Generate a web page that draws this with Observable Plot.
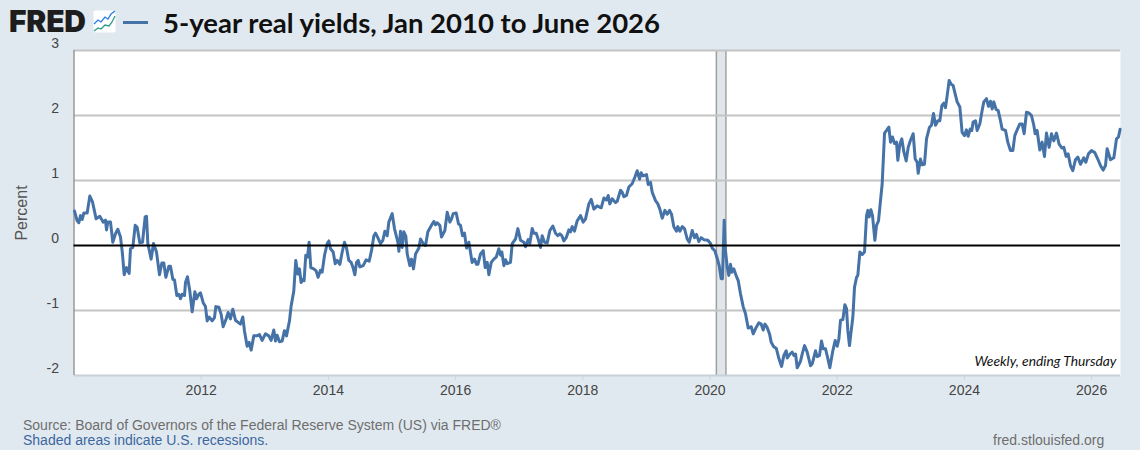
<!DOCTYPE html>
<html><head><meta charset="utf-8">
<script src="https://cdn.jsdelivr.net/npm/d3@7"></script>
<script src="https://cdn.jsdelivr.net/npm/@observablehq/plot@0.6"></script>
<style>
html,body{margin:0;padding:0;background:#e1e9f0;width:1140px;height:450px;overflow:hidden}
#head{position:relative;height:30px;z-index:2}
#logo{position:absolute;left:9px;top:8px;font:900 30px/26px Inter,"Liberation Sans",sans-serif;letter-spacing:-0.2px;color:#1d1d1d}
#icon{position:absolute;left:93px;top:10px}
#swatch{position:absolute;left:123px;top:21px;width:25px;height:3px;background:#4572a7}
#title{position:absolute;left:163px;top:5px;font:700 27.5px/36px Lato,sans-serif;color:#111;white-space:nowrap}
#chart svg{display:block}
#src{position:absolute;left:23px;top:417px;font:14px/16px "Liberation Sans",sans-serif;color:#6e6e6e;white-space:nowrap}
#note{position:absolute;left:23px;top:432px;font:14px/16px "Liberation Sans",sans-serif;color:#3c679e;white-space:nowrap}
#site{position:absolute;left:993px;top:432px;font:14px/16px "Liberation Sans",sans-serif;color:#6e6e6e;white-space:nowrap}
</style></head><body>
<div id="head">
<div id="logo">FRED</div>
<svg id="icon" width="23" height="23" viewBox="0 0 23 23"><rect x="0.5" y="0.5" width="22" height="22" rx="2" fill="#fff"/><polyline points="1,14 5,10 8,12 12,7 15,9 18,4 22,1" fill="none" stroke="#2a7de1" stroke-width="1.3"/><polyline points="1,21 5,18 8,19 12,15 16,16 19,12 22,6" fill="none" stroke="#2e9e83" stroke-width="1.3"/></svg>
<div id="swatch"></div>
<div id="title">5-year real yields, Jan 2010 to June 2026</div>
</div>
<div id="chart"></div>
<div id="src">Source: Board of Governors of the Federal Reserve System (US) via FRED®</div>
<div id="note">Shaded areas indicate U.S. recessions.</div>
<div id="site">fred.stlouisfed.org</div>
<script>
const years = [
2010.008,2010.050,2010.076,2010.102,2010.128,2010.155,2010.207,2010.249,2010.291,2010.348,2010.406,2010.458,2010.495,2010.511,2010.532,2010.574,2010.610,2010.652,2010.689,2010.731,2010.762,2010.789,2010.825,2010.867,2010.888,2010.925,2010.962,2010.993,
2011.035,2011.077,2011.119,2011.140,2011.161,2011.213,2011.250,2011.297,2011.344,2011.381,2011.412,2011.444,2011.491,2011.517,2011.554,2011.580,2011.617,2011.648,2011.674,2011.700,2011.737,2011.753,2011.784,2011.821,2011.858,2011.900,2011.926,2011.963,2011.989,
2012.031,2012.067,2012.094,2012.125,2012.172,2012.209,2012.230,2012.277,2012.314,2012.345,2012.392,2012.423,2012.460,2012.497,2012.539,2012.591,2012.617,2012.654,2012.680,2012.722,2012.754,2012.785,2012.827,2012.880,2012.916,2012.958,
2013.010,2013.063,2013.099,2013.141,2013.168,2013.194,2013.231,2013.272,2013.309,2013.341,2013.388,2013.414,2013.456,2013.487,2013.519,2013.545,2013.571,2013.597,2013.618,2013.644,2013.671,2013.697,2013.723,2013.770,2013.807,2013.838,2013.875,2013.902,2013.939,2013.981,
2014.007,2014.033,2014.075,2014.107,2014.138,2014.180,2014.217,2014.253,2014.285,2014.321,2014.358,2014.384,2014.416,2014.442,2014.468,2014.494,2014.547,2014.594,2014.641,2014.678,2014.715,2014.741,2014.777,2014.819,2014.856,2014.887,2014.924,2014.950,
2015.003,2015.039,2015.092,2015.108,2015.134,2015.160,2015.186,2015.218,2015.239,2015.281,2015.307,2015.338,2015.370,2015.422,2015.448,2015.490,2015.527,2015.564,2015.632,2015.658,2015.684,2015.710,2015.752,2015.778,2015.831,2015.868,2015.910,2015.936,2015.962,
2016.009,2016.046,2016.077,2016.109,2016.140,2016.172,2016.208,2016.260,2016.297,2016.329,2016.350,2016.392,2016.434,2016.465,2016.497,2016.523,2016.560,2016.601,2016.638,2016.680,2016.706,2016.727,2016.759,2016.785,2016.811,2016.863,2016.890,2016.942,2016.979,
2017.021,2017.073,2017.099,2017.141,2017.167,2017.204,2017.230,2017.267,2017.298,2017.335,2017.361,2017.398,2017.440,2017.482,2017.529,2017.571,2017.608,2017.639,2017.671,2017.702,2017.739,2017.780,2017.807,2017.833,2017.869,2017.911,2017.953,2017.964,
2018.006,2018.043,2018.095,2018.132,2018.174,2018.226,2018.289,2018.331,2018.373,2018.399,2018.425,2018.462,2018.514,2018.541,2018.593,2018.619,2018.645,2018.687,2018.724,2018.776,2018.818,2018.855,2018.892,2018.918,2018.949,
2019.002,2019.028,2019.065,2019.091,2019.143,2019.180,2019.211,2019.248,2019.290,2019.327,2019.363,2019.395,2019.431,2019.473,2019.494,2019.526,2019.563,2019.599,2019.641,2019.673,2019.720,2019.756,2019.788,2019.824,2019.861,2019.903,2019.966,
2020.008,2020.034,2020.076,2020.113,2020.144,2020.175,2020.196,2020.223,2020.238,2020.270,2020.296,2020.322,2020.343,2020.375,2020.417,2020.443,2020.479,2020.521,2020.558,2020.600,2020.648,2020.679,2020.726,2020.768,2020.805,2020.836,2020.863,2020.899,2020.936,2020.962,
2021.004,2021.041,2021.083,2021.125,2021.161,2021.198,2021.214,2021.256,2021.292,2021.318,2021.345,2021.371,2021.423,2021.449,2021.486,2021.528,2021.580,2021.607,2021.659,2021.685,2021.722,2021.753,2021.780,2021.816,2021.853,2021.884,2021.931,2021.968,
2022.000,2022.026,2022.052,2022.089,2022.120,2022.146,2022.167,2022.193,2022.214,2022.246,2022.272,2022.304,2022.324,2022.356,2022.393,2022.429,2022.461,2022.482,2022.503,2022.529,2022.555,2022.592,2022.618,2022.649,2022.707,2022.744,2022.775,2022.812,2022.838,2022.869,2022.901,2022.932,2022.953,2022.985,
2023.016,2023.048,2023.084,2023.116,2023.152,2023.194,2023.226,2023.257,2023.273,2023.309,2023.336,2023.372,2023.404,2023.451,2023.482,2023.514,2023.545,2023.582,2023.613,2023.645,2023.676,2023.702,2023.729,2023.760,2023.791,2023.823,2023.860,2023.886,2023.928,2023.964,
2024.001,2024.032,2024.059,2024.090,2024.116,2024.137,2024.174,2024.200,2024.242,2024.279,2024.305,2024.347,2024.378,2024.410,2024.436,2024.462,2024.499,2024.530,2024.567,2024.593,2024.646,2024.682,2024.724,2024.761,2024.792,2024.829,2024.871,2024.908,2024.939,2024.976,
2025.012,2025.054,2025.091,2025.112,2025.143,2025.185,2025.222,2025.259,2025.290,2025.332,2025.369,2025.405,2025.447,2025.489,2025.531,2025.563,2025.599,2025.631,2025.667,2025.704,2025.746,2025.783,2025.825,2025.877,2025.909,2025.950,2025.998,
2026.050,2026.097,2026.139,2026.181,2026.218,2026.244,2026.296,2026.349,2026.391,2026.422,2026.448
];
const yields = [
.53,.38,.35,.46,.40,.50,.50,.76,.67,.41,.45,.36,.39,.24,.36,.36,.05,.18,.25,.13,-.13,-.45,-.34,-.43,-.05,-.03,.31,.28,
.04,.05,.44,.45,.03,-.21,.03,-.10,-.45,-.27,-.27,-.49,-.32,-.32,-.52,-.53,-.77,-.75,-.82,-.75,-.77,-.57,-.48,-.70,-1.02,-.71,-.82,-.75,-.73,
-.88,-.94,-1.16,-1.10,-1.16,-1.11,-.94,-.95,-1.06,-1.25,-1.13,-1.03,-1.13,-.98,-1.15,-1.19,-1.21,-1.10,-1.31,-1.55,-1.49,-1.61,-1.39,-1.39,-1.37,-1.46,
-1.36,-1.39,-1.46,-1.30,-1.47,-1.38,-1.48,-1.47,-1.31,-1.39,-1.16,-.93,-.70,-.23,-.44,-.36,-.57,-.52,-.54,-.15,-.18,.05,-.34,-.36,-.39,-.49,-.38,-.41,-.15,.03,
.07,-.05,-.10,-.28,-.23,-.29,-.10,.05,-.04,-.23,-.26,-.33,-.45,-.26,-.23,-.33,-.31,-.22,-.24,-.08,.15,.19,.12,.03,.08,.22,.15,.36,
.49,.26,.05,-.09,.22,-.03,.21,.14,-.13,-.31,-.21,-.36,-.13,-.04,.10,.03,0,.21,.33,.37,.32,.35,.31,.13,.23,.51,.36,.41,.49,
.50,.33,.31,.15,.19,-.04,.05,-.26,-.21,-.29,-.29,-.13,-.08,-.34,-.26,-.45,-.26,-.21,-.18,-.05,-.15,-.10,-.31,-.22,-.28,-.26,.03,.10,.26,
.08,.05,-.02,.09,.03,.26,.19,.19,.10,-.03,.15,.05,.04,.23,.30,.19,.15,.18,.15,.07,.12,.24,.21,.29,.22,.38,.44,.46,
.36,.41,.64,.71,.56,.61,.58,.73,.70,.77,.64,.72,.66,.68,.85,.82,.75,.77,.90,.95,1.05,1.15,1.02,1.12,1.07,
1.09,.94,.97,.82,.69,.64,.56,.42,.54,.48,.54,.48,.29,.22,.29,.22,.29,.26,.10,.05,.23,.12,.17,.06,.12,.09,.08,
.03,-.04,-.08,-.20,-.31,-.51,-.51,.39,-.03,-.33,-.46,-.29,-.41,-.36,-.48,-.54,-.74,-.94,-1.05,-1.27,-1.25,-1.36,-1.26,-1.19,-1.21,-1.30,-1.21,-1.26,-1.36,-1.49,
-1.56,-1.58,-1.74,-1.86,-1.69,-1.62,-1.73,-1.67,-1.64,-1.69,-1.67,-1.88,-1.78,-1.67,-1.54,-1.64,-1.85,-1.82,-1.62,-1.71,-1.69,-1.47,-1.59,-1.59,-1.74,-1.88,-1.62,-1.46,
-1.55,-1.44,-1.15,-1.14,-.91,-.97,-1.31,-1.54,-1.36,-1.10,-.64,-.49,-.46,-.10,-.14,-.10,.46,.54,.44,.55,.46,.08,.31,.38,.95,1.73,1.77,1.82,1.59,1.67,1.57,1.59,1.31,1.56,
1.64,1.44,1.30,1.51,1.62,1.72,1.33,1.28,1.11,1.33,1.24,1.25,1.64,1.82,1.85,2.03,1.85,1.92,1.92,2.15,2.19,2.12,2.31,2.54,2.48,2.46,2.31,2.21,2.13,1.74,
1.69,1.78,1.68,1.79,1.77,1.90,1.92,1.77,1.87,2.08,2.21,2.26,2.14,2.22,2.10,2.21,2.09,2.08,1.92,1.79,1.77,1.59,1.46,1.46,1.69,1.78,1.87,1.87,1.72,2.05,
2.04,2.00,1.85,1.72,1.77,1.47,1.59,1.37,1.73,1.51,1.72,1.61,1.73,1.56,1.50,1.51,1.37,1.41,1.23,1.15,1.32,1.36,1.25,1.35,1.28,1.41,1.46,
1.43,1.33,1.23,1.16,1.23,1.49,1.32,1.35,1.64,1.67,1.79
];
const yTicks = [-2,-1,0,1,2,3];
const gridLevels = [-1,1,2];
const xTicks = [2012,2014,2016,2018,2020,2022,2024,2026];
const recessions = [{start:2020.10,end:2020.25}];
const series = years.map((x,i)=>({x,y:yields[i]}));

const plot = Plot.plot({
  width:1140, height:380,
  marginTop:20, marginBottom:35, marginLeft:73.5, marginRight:20,
  style:{background:"transparent",fontFamily:"'Liberation Sans',Arial,sans-serif",fontSize:"14px",color:"#444"},
  x:{domain:[2010,2026.454],type:"linear"},
  y:{domain:[-2,3],type:"linear"},
  marks:[
    Plot.frame({fill:"#fff",stroke:null}),
    Plot.rectX(recessions,{x1:"start",x2:"end",y1:-2,y2:3,fill:"#e1e6eb"}),
    Plot.ruleX(recessions,{x:"start",stroke:"#a0a0a0",strokeWidth:1.5}),
    Plot.ruleX(recessions,{x:"end",stroke:"#a0a0a0",strokeWidth:1.5}),
    Plot.ruleY(gridLevels,{stroke:"#c4c4c4",strokeWidth:2}),
    Plot.ruleY([3],{stroke:"#c4c4c4",strokeWidth:2}),
    Plot.ruleY([-2],{stroke:"#c8d0d8",strokeWidth:2}),
    Plot.ruleX([2010],{stroke:"#999",strokeWidth:1.5}),
    Plot.line(series,{x:"x",y:"y",stroke:"#4572a7",strokeWidth:3,strokeLinejoin:"round"}),
    Plot.ruleY([0],{stroke:"#000",strokeWidth:2}),
    Plot.axisY({ticks:yTicks,tickSize:0,tickPadding:15,dy:-6.5,tickFormat:d=>String(d),fontSize:14,fill:"#444",label:null}),
    Plot.axisY({ticks:[],tickSize:0,fontSize:16,fill:"#555",label:"Percent",labelAnchor:"center",labelArrow:"none",labelOffset:58}),
    Plot.axisX({ticks:xTicks,tickSize:5,stroke:"#c6d4e4",tickPadding:5,tickFormat:"d",fontSize:14,fill:"#444",label:null}),
    Plot.text(["Weekly, ending Thursday"],{frameAnchor:"bottom-right",dx:-4,dy:-10,fontStyle:"italic",fontFamily:"Lato,sans-serif",fontSize:13.8,fill:"#111"})
  ]
});
document.getElementById("chart").appendChild(plot);
</script>
</body></html>
